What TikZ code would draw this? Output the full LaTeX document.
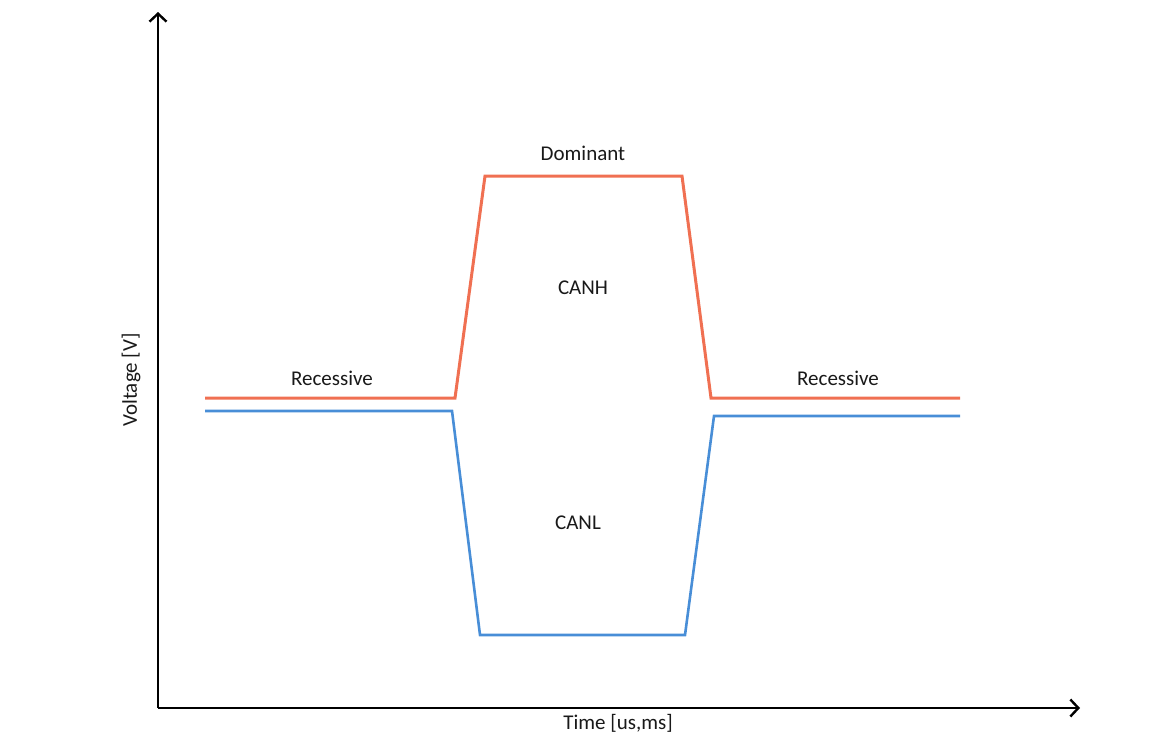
\documentclass[tikz,border=0pt]{standalone}
\usepackage{fontspec}
\setmainfont{Carlito}
\usetikzlibrary{arrows.meta}
\definecolor{canh}{RGB}{240,112,82}
\definecolor{canl}{RGB}{72,142,215}
\tikzset{
  axis/.style={line width=2.6pt, black, -{Straight Barb[length=8pt,width=17pt,line width=2.4pt]}},
  hline/.style={line width=3pt, canh, line join=miter},
  lline/.style={line width=2.6pt, canl, line join=miter},
  lbl/.style={font=\fontsize{21}{24}\selectfont, text=black!90, inner sep=0pt}
}
\begin{document}
\begin{tikzpicture}[x=1pt,y=-1pt]
  \useasboundingbox (0,0) rectangle (1161,737);
  % axes
  \coordinate (o) at (158,708);
  \coordinate (ytop) at (158,12);
  \coordinate (xend) at (1080,708);
  \draw[axis] (o) -- (ytop);
  \draw[axis] (o) -- (xend);
  % CANH trace
  \coordinate (h0) at (205,398);
  \coordinate (h1) at (455,398);
  \coordinate (h2) at (485,176);
  \coordinate (h3) at (682,176);
  \coordinate (h4) at (711,398);
  \coordinate (h5) at (960,398);
  \draw[hline] (h0) -- (h1) -- (h2) -- (h3) -- (h4) -- (h5);
  % CANL trace
  \coordinate (l0) at (205,411);
  \coordinate (l1) at (452,411);
  \coordinate (l2) at (480,635);
  \coordinate (l3) at (685,635);
  \coordinate (l4) at (714,416);
  \coordinate (l5) at (960,416);
  \draw[lline] (l0) -- (l1) -- (l2) -- (l3) -- (l4) -- (l5);
  % labels
  \node[lbl] (dom) at (583,153) {Dominant};
  \node[lbl] (hname) at (583,288) {CANH};
  \node[lbl] (lname) at (578,523) {CANL};
  \node[lbl] (rec1) at (332,378) {Recessive};
  \node[lbl] (rec2) at (838,378) {Recessive};
  \node[lbl, rotate=90] (ylab) at (131,380) {Voltage [V]};
  \node[lbl] (xlab) at (618,723) {Time [us,ms]};
\end{tikzpicture}
\end{document}
